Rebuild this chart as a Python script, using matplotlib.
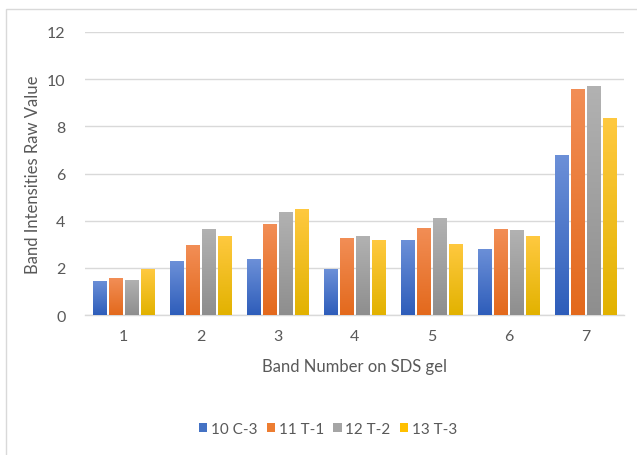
import numpy as np
import matplotlib.pyplot as plt
from matplotlib.colors import LinearSegmentedColormap
from matplotlib.patches import Rectangle

plt.rcParams['font.family'] = ['Lato', 'DejaVu Sans']

bands = ['1', '2', '3', '4', '5', '6', '7']
series_names = ['10 C-3', '11 T-1', '12 T-2', '13 T-3']
c3 = [1.45, 2.27, 2.36, 1.95, 3.16, 2.81, 6.78]
t1 = [1.55, 2.95, 3.85, 3.25, 3.69, 3.64, 9.58]
t2 = [1.50, 3.65, 4.38, 3.36, 4.11, 3.60, 9.70]
t3 = [1.95, 3.35, 4.50, 3.16, 3.02, 3.33, 8.35]
values = [c3, t1, t2, t3]

# (top, bottom) of each gradient fill
grads = [('#6C90D8', '#2E5DBA'),
         ('#F28E56', '#E3691C'),
         ('#B2B2B2', '#8E8E8E'),
         ('#FFC940', '#E2B200')]
solid = ['#4472C4', '#ED7D31', '#A5A5A5', '#FFC000']

txt = '#595959'

fig = plt.figure(figsize=(6.37, 4.56), dpi=100)
ax = fig.add_axes([85 / 637, 1 - 316 / 456, 539 / 637, 283 / 456])

# thin frame around the whole chart
fig.patches.append(Rectangle((6.5 / 637, -0.1), 1.2, 1 - 9.5 / 456 + 0.1,
                             transform=fig.transFigure, fill=False,
                             edgecolor='#D9D9D9', linewidth=1.0, zorder=0))

x = np.arange(len(bands))
width = 0.175
pitch = 0.208
grad_img = np.linspace(1, 0, 256).reshape(-1, 1)

for i, (vals, name) in enumerate(zip(values, series_names)):
    offs = (i - 1.5) * pitch
    bars = ax.bar(x + offs, vals, width, color=solid[i], label=name,
                  edgecolor='#F4F4F4', linewidth=0.6, zorder=3)
    cmap = LinearSegmentedColormap.from_list('g%d' % i, [grads[i][1], grads[i][0]])
    for b in bars:
        im = ax.imshow(grad_img, cmap=cmap, aspect='auto', zorder=3.5,
                       extent=[b.get_x(), b.get_x() + b.get_width(), 0, b.get_height()],
                       vmin=0, vmax=1)
        im.set_clip_path(b)

ax.set_xlim(-0.5, 6.5)
ax.set_ylim(0, 12)
ax.set_yticks(range(0, 13, 2))
ax.set_xticks(x)
ax.set_xticklabels(bands)
ax.grid(axis='y', color='#D9D9D9', linewidth=1.0, zorder=0)
ax.set_axisbelow(True)
for s in ['top', 'right', 'left']:
    ax.spines[s].set_visible(False)
ax.spines['bottom'].set_color('#D9D9D9')
ax.spines['bottom'].set_linewidth(1.0)
ax.tick_params(axis='both', length=0, colors=txt, labelsize=11.5)
ax.tick_params(axis='y', pad=14)
ax.tick_params(axis='x', pad=10)

ax.set_ylabel('Band Intensities Raw Value', color=txt, fontsize=12, labelpad=4)
ax.set_xlabel('Band Number on SDS gel', color=txt, fontsize=12, labelpad=11)

leg = fig.legend(*ax.get_legend_handles_labels(), loc='center',
                 bbox_to_anchor=(328 / 637, 1 - 430 / 456), ncol=4, frameon=False,
                 fontsize=11, handlelength=0.55, handleheight=0.55,
                 handletextpad=0.25, columnspacing=0.6)
for t in leg.get_texts():
    t.set_color(txt)
for h in leg.legend_handles:
    h.set_edgecolor('none')

fig.savefig('out.png', dpi=100, facecolor='white')
